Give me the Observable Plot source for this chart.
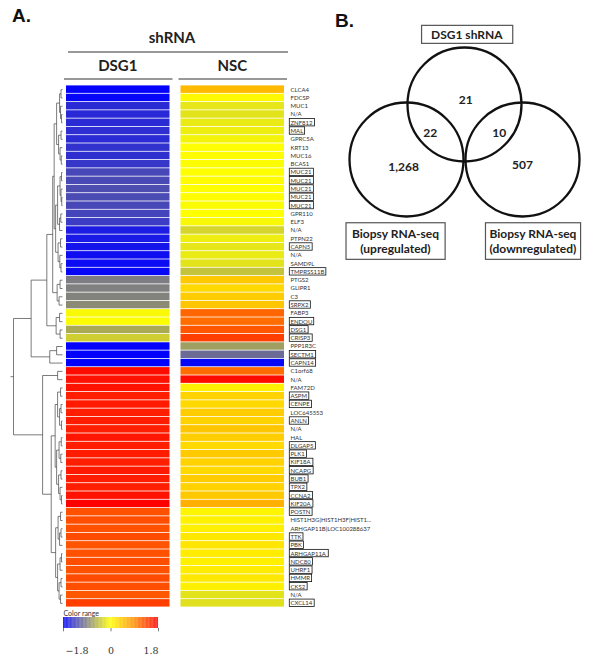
<!DOCTYPE html>
<html><head><meta charset="utf-8">
<script src="https://cdn.jsdelivr.net/npm/d3@7"></script>
<script src="https://cdn.jsdelivr.net/npm/@observablehq/plot@0.6"></script>
<style>
html,body{margin:0;padding:0;background:#fff;}
#fig{position:relative;width:604px;height:662px;overflow:hidden;background:#fff;}
#fig svg{position:absolute;left:0;top:0;background:transparent;max-width:none;}
</style></head><body><div id="fig"></div>
<script>
// ---------- data ----------
const samples = ["DSG1", "NSC"];
const genes = ["CLCA4","FDCSP","MUC1","N/A","ZNF812","MAL","GPRC5A","KRT13","MUC16","BCAS1",
  "MUC21","MUC21","MUC21","MUC21","MUC21","GPR110","ELF3","N/A","PTPN22","CAPN5",
  "N/A","SAMD9L","TMPRSS11B","PTGS2","GLIPR1","C3","SRPX2","FABP3","ENDOU","DSG1",
  "CRISP3","PPP1R3C","SECTM1","CAPN14","C1orf68","N/A","FAM72D","ASPM","CENPE","LOC645553",
  "ANLN","N/A","HAL","DLGAP5","PLK1","KIF18A","NCAPG","BUB1","TPX2","CCNA2",
  "KIF20A","POSTN","HIST1H3G|HIST1H3F|HIST1...","ARHGAP11B|LOC100288637","TTK","PBK","ARHGAP11A","NDC80","UHRF1","HMMR",
  "CKS2","N/A","CXCL14"];
// genes shown in a box (row numbers, 1-based)
const boxedRows = [5,6,11,12,13,14,15,20,23,27,29,30,31,33,34,38,39,41,44,45,46,47,48,49,50,51,52,55,56,57,58,59,60,61,63];
const dsg1 = [-1.78,-1.76,-1.5,-1.52,-1.5,-1.48,-1.5,-1.45,-1.47,-1.42,
  -1.3,-1.28,-1.25,-1.27,-1.3,-1.32,-1.38,-1.6,-1.62,-1.66,
  -1.7,-1.72,-1.75,-0.92,-0.9,-0.88,-0.82,-0.05,-0.02,-0.6,
  -0.35,-1.78,-1.8,-1.8,1.72,1.7,1.68,1.6,1.63,1.6,
  1.62,1.6,1.66,1.6,1.62,1.6,1.64,1.62,1.6,1.68,
  1.8,1.28,1.3,1.27,1.32,1.26,1.28,1.3,1.27,1.32,
  1.3,1.24,1.4];
const nsc = [0.55,0.05,-0.18,-0.2,-0.15,-0.12,-0.08,0.0,0.02,-0.02,
  0.0,0.03,0.0,0.02,-0.03,0.0,-0.05,-0.3,-0.12,-0.18,
  -0.15,-0.2,-0.42,0.42,0.3,0.4,0.45,1.15,1.1,1.25,
  1.4,-0.68,-1.05,-1.75,1.1,1.72,0.12,0.35,0.3,0.4,
  0.35,0.45,0.38,0.3,0.42,0.35,0.3,0.4,0.35,0.42,
  0.62,0.08,0.1,0.12,0.18,0.2,0.15,0.12,0.15,0.18,
  0.12,-0.2,-0.22];
// dendrogram: [merge height, left, right]; leaves are row indices (0-based)
const tree = [10,
  [6.4,
    [3.2,
      [2.0,
        [1.7,
          [1.2, [0.6, [0.3,0,1], [0.4,2,[0.2,3,4]]], [0.8,[0.3,5,6],[0.5,7,[0.25,8,9]]]],
          [1.4, [1.0,[0.5,[0.2,10,11],[0.3,12,[0.15,13,14]]],[0.6,[0.35,15,16],17]], [0.9,[0.4,18,19],[0.55,20,[0.3,21,22]]]]
        ],
        [1.1,[0.5,23,24],[0.7,25,26]]
      ],
      [1.3,[0.6,27,28],[0.5,29,30]]
    ],
    [2.6,[1.2,31,32],33]
  ],
  [4.06,
    [1.0,34,35],
    [2.3,
      [1.5,[1.0,[0.4,36,37],[0.6,[0.3,38,39],[0.2,40,41]]],[1.2,[0.7,[0.25,42,43],[0.35,44,45]],[0.8,[0.3,46,47],[0.5,48,[0.2,49,50]]]]],
      [1.4,[0.9,[0.4,51,52],[0.6,[0.3,53,54],55]],[1.0,[0.5,[0.2,56,57],58],[0.7,[0.3,59,60],[0.4,61,62]]]]
    ]
  ]
];
const colorStops = [-1.8, -0.9, 0, 0.9, 1.8];
const colorRange = ["#0000ff", "#808080", "#ffff00", "#ff8c00", "#ff0000"];
const legendTicks = [-1.8, 0, 1.8];
const legendTickLabels = ["\u22121.8", "0", "1.8"];
const vennSetNames = ["DSG1 shRNA", "Biopsy RNA-seq\n(upregulated)", "Biopsy RNA-seq\n(downregulated)"];
const vennRegionNames = ["shRNA only", "shRNA & up", "shRNA & down", "up only", "down only"];
const vennCounts = [21, 22, 10, 1268, 507];

// ---------- layout (Venn geometry in circle-radius units) ----------
const circleCenters = [{x: 0, y: 0.95}, {x: -1, y: 0}, {x: 1, y: 0}];
const setLabelPos = [{x: 0.04, y: 2.17}, {x: -1.19, y: -1.40}, {x: 1.18, y: -1.40}];
const regionPos = [{x: 0.02, y: 1.02}, {x: -0.59, y: 0.45}, {x: 0.60, y: 0.45}, {x: -1.05, y: -0.14}, {x: 1.0, y: -0.09}];

const fig = document.getElementById("fig");
const svgns = "http://www.w3.org/2000/svg";
const colorScale = {type: "linear", domain: colorStops, range: colorRange, interpolate: "rgb", clamp: true};

// ---------- heatmap ----------
const rows = d3.range(genes.length);
const cells = samples.flatMap(s => rows.map(i => ({sample: s, row: i, value: (s === "DSG1" ? dsg1 : nsc)[i]})));
const heat = Plot.plot({
  width: 604, height: 662,
  marginLeft: 66, marginRight: 320, marginTop: 85, marginBottom: 55,
  style: {background: "transparent", fontFamily: "Lato"},
  x: {type: "band", domain: samples, paddingInner: 0.096, paddingOuter: 0, round: false, axis: null},
  y: {type: "band", domain: rows, padding: 0, round: false, axis: null},
  color: colorScale,
  marks: [
    Plot.cell(cells, {x: "sample", y: "row", fill: "value", insetTop: 0.4, insetBottom: 0.4}),
    Plot.text(rows, {y: d => d, text: d => genes[d], frameAnchor: "right", textAnchor: "start", dx: 6, fontSize: 6, fill: "#333", fontFamily: "Lato"})
  ]
});
fig.appendChild(heat);

// boxes around highlighted gene names
const boxedSet = new Set(boxedRows.map(r => r - 1));
const geneTexts = heat.querySelectorAll('g[aria-label="text"] text');
geneTexts.forEach((t, i) => {
  if (!boxedSet.has(i)) return;
  const b = t.getBBox();
  const r = document.createElementNS(svgns, "rect");
  const cy = b.y + b.height / 2;
  r.setAttribute("x", b.x - 1.2);
  r.setAttribute("y", cy - 3.7);
  r.setAttribute("width", b.width + 2.6);
  r.setAttribute("height", 7.4);
  r.setAttribute("fill", "none");
  r.setAttribute("stroke", "#111");
  r.setAttribute("stroke-width", 0.8);
  if (t.getAttribute("transform")) r.setAttribute("transform", t.getAttribute("transform"));
  t.parentNode.insertBefore(r, t);
});

// ---------- dendrogram ----------
const segs = [];
function layout(node) {
  if (typeof node === "number") return {h: 0, y: node + 0.5};
  const [h, a, b] = node;
  const A = layout(a), B = layout(b);
  segs.push({x1: A.h, y1: A.y, x2: h, y2: A.y});
  segs.push({x1: B.h, y1: B.y, x2: h, y2: B.y});
  segs.push({x1: h, y1: A.y, x2: h, y2: B.y});
  return {h, y: (A.y + B.y) / 2};
}
const root = layout(tree);
segs.push({x1: root.h, y1: root.y, x2: root.h + 0.6, y2: root.y});
const dendro = Plot.plot({
  width: 604, height: 662,
  marginLeft: 13, marginRight: 542, marginTop: 85, marginBottom: 55,
  style: {background: "transparent"},
  x: {domain: [10, 0], axis: null},
  y: {domain: [0, genes.length], reverse: true, axis: null},
  marks: [
    Plot.link(segs, {x1: "x1", y1: "y1", x2: "x2", y2: "y2", stroke: "#444", strokeWidth: 0.7})
  ]
});
fig.appendChild(dendro);

// ---------- color legend ----------
const ramp = d3.range(0, 120).map(i => colorStops[0] + (colorStops[4] - colorStops[0]) * i / 120);
const step = (colorStops[4] - colorStops[0]) / 120;
const legend = Plot.plot({
  width: 604, height: 662,
  marginLeft: 63, marginRight: 446, marginTop: 617, marginBottom: 34,
  style: {background: "transparent"},
  x: {domain: [colorStops[0], colorStops[4]], axis: null},
  y: {domain: [0, 1], axis: null},
  color: colorScale,
  marks: [
    Plot.rect(ramp, {x1: d => d, x2: d => d + step * 1.05, y1: 0, y2: 1, fill: d => d + step / 2}),
    Plot.ruleX(legendTicks, {y1: 0, y2: -0.3, stroke: "#555", strokeWidth: 0.8}),
    Plot.text([legendTicks[0]], {x: d => d, y: -2.05, text: () => legendTickLabels[0], textAnchor: "start", dx: 2, fontSize: 9.5, fontFamily: "DejaVu Serif", fill: "#333"}),
    Plot.text([legendTicks[1]], {x: d => d, y: -2.05, text: () => legendTickLabels[1], fontSize: 9.5, fontFamily: "DejaVu Serif", fill: "#333"}),
    Plot.text([legendTicks[2]], {x: d => d, y: -2.05, text: () => legendTickLabels[2], textAnchor: "end", dx: 0, fontSize: 9.5, fontFamily: "DejaVu Serif", fill: "#333"}),
    Plot.text(["Color range"], {frameAnchor: "top-left", textAnchor: "start", lineAnchor: "bottom", dy: -2, fontSize: 7, fontFamily: "Lato", fill: "#333"})
  ]
});
fig.appendChild(legend);

// ---------- Venn diagram ----------
const vennPlot = Plot.plot({
  width: 604, height: 662,
  marginLeft: 406, marginRight: 82, marginTop: 104, marginBottom: 503,
  style: {background: "transparent"},
  x: {domain: [-1, 1], axis: null},
  y: {domain: [0, 0.95], axis: null},
  marks: [
    Plot.dot(circleCenters, {x: "x", y: "y", r: 57, stroke: "#111", strokeWidth: 2.3, fill: "none"}),
    Plot.text(vennCounts, {x: (d, i) => regionPos[i].x, y: (d, i) => regionPos[i].y, text: d => d3.format(",")(d), fontSize: 12, fontWeight: "bold", fontFamily: "Lato", fill: "#222"}),
    Plot.text(vennSetNames, {x: (d, i) => setLabelPos[i].x, y: (d, i) => setLabelPos[i].y, text: d => d, lineHeight: 1.3, fontSize: 12, fontWeight: "bold", fontFamily: "Lato", fill: "#222"})
  ]
});
fig.appendChild(vennPlot);
const pads = [[9.5, 1.5], [6, 3], [4, 3]];
const setTexts = vennPlot.querySelectorAll('g[aria-label="text"]')[1].querySelectorAll("text");
setTexts.forEach((t, i) => {
  const b = t.getBBox();
  const r = document.createElementNS(svgns, "rect");
  r.setAttribute("x", b.x - pads[i][0]);
  r.setAttribute("y", b.y - pads[i][1]);
  r.setAttribute("width", b.width + 2 * pads[i][0]);
  r.setAttribute("height", b.height + 2 * pads[i][1]);
  r.setAttribute("fill", "none");
  r.setAttribute("stroke", "#555");
  r.setAttribute("stroke-width", 1.2);
  if (t.getAttribute("transform")) r.setAttribute("transform", t.getAttribute("transform"));
  t.parentNode.insertBefore(r, t);
});

// ---------- titles & header rules ----------
const xs = heat.scale("x");
const bw = xs.bandwidth;
const stepX = xs.step || bw / (1 - 0.096);
const bandStart = s => xs.range[0] + stepX * samples.indexOf(s);
const ov = d3.create("svg").attr("width", 604).attr("height", 662);
const bold = sel => sel.attr("font-weight", "bold");
bold(ov.append("text").attr("x", 12).attr("y", 22).attr("font-family", "Liberation Sans, Arial, sans-serif").attr("font-size", 19).attr("fill", "#111").text("A."));
bold(ov.append("text").attr("x", 335).attr("y", 27).attr("font-family", "Liberation Sans, Arial, sans-serif").attr("font-size", 19).attr("fill", "#111").text("B."));
const left = bandStart("DSG1"), right = bandStart("NSC") + bw;
bold(ov.append("text").attr("x", (left + right) / 2 - 3).attr("y", 43).attr("text-anchor", "middle").attr("font-family", "Lato").attr("font-size", 15).attr("fill", "#222").text("shRNA"));
ov.append("line").attr("x1", left + 2).attr("x2", right + 4).attr("y1", 52).attr("y2", 52).attr("stroke", "#333").attr("stroke-width", 1.2);
samples.forEach(s => {
  const x0 = bandStart(s);
  bold(ov.append("text").attr("x", x0 + bw / 2).attr("y", 71).attr("text-anchor", "middle").attr("font-family", "Lato").attr("font-size", 15).attr("fill", "#222").text(s));
  ov.append("line").attr("x1", x0 - 2).attr("x2", x0 + bw + 3).attr("y1", 79).attr("y2", 79).attr("stroke", "#333").attr("stroke-width", 1.2);
});
fig.appendChild(ov.node());
</script></body></html>
